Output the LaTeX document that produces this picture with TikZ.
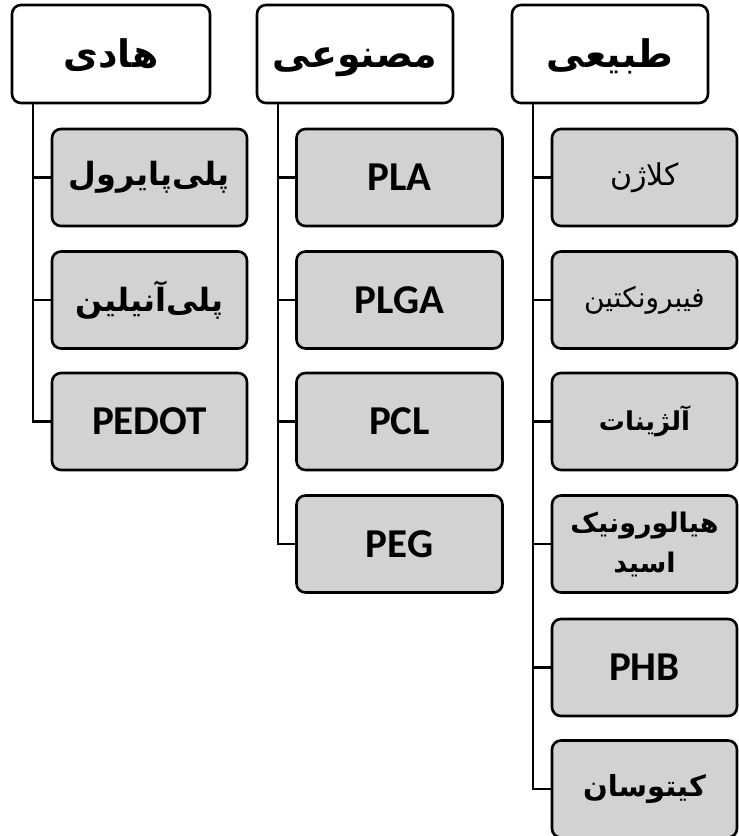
\documentclass[tikz,border=0pt]{standalone}
\usepackage{fontspec}
\setmainfont{Carlito}
\newfontfamily\fa[Script=Arabic]{DejaVu Sans}
\TeXXeTstate=1
\begin{document}
\begin{tikzpicture}[x=1pt,y=1pt,
  head/.style={draw=black, line width=2.6pt, rounded corners=9pt, fill=white,
    minimum height=98pt, inner sep=0pt, text height=30pt, text depth=4pt,
    font=\fa\bfseries\fontsize{38}{40}\selectfont},
  item/.style={draw=black, line width=2.6pt, rounded corners=9pt, fill=gray!35,
    minimum height=97pt, inner sep=0pt, align=center},
  lat/.style={font=\bfseries\fontsize{41}{44}\selectfont},
  per/.style={font=\fa\bfseries\fontsize{32}{40}\selectfont},
  conn/.style={draw=black, line width=2.6pt}]
\useasboundingbox (0,0) rectangle (739,-836);
\clip (0,0) rectangle (739,-836);
% headers
\node[head, minimum width=198pt] (h1) at (111,-54) {\beginR هادی\endR};
\node[head, minimum width=196pt] (h2) at (355,-54) {\beginR مصنوعی\endR};
\node[head, minimum width=196pt] (h3) at (610,-54) {\beginR طبیعی\endR};
\coordinate (t1) at (33,-103);
\coordinate (t2) at (278,-103);
\coordinate (t3) at (533,-103);
% column 1
\node[item, minimum width=195pt, per] (a1) at (149.5,-177.5) {\beginR پلی\char"200C پایرول\endR};
\node[item, minimum width=195pt, per] (a2) at (149.5,-300) {\beginR پلی\char"200C آنیلین\endR};
\node[item, minimum width=195pt, lat] (a3) at (149.5,-421.5) {PEDOT};
% column 2
\node[item, minimum width=206pt, lat] (b1) at (399.5,-177.5) {PLA};
\node[item, minimum width=206pt, lat] (b2) at (399.5,-300) {PLGA};
\node[item, minimum width=206pt, lat] (b3) at (399.5,-421.5) {PCL};
\node[item, minimum width=206pt, lat] (b4) at (399.5,-544) {PEG};
% column 3
\node[item, minimum width=185pt, font=\fa\fontsize{30}{36}\selectfont] (c1) at (644.5,-177.5) {\beginR کلاژن\endR};
\node[item, minimum width=185pt, font=\fa\fontsize{28}{36}\selectfont] (c2) at (644.5,-300) {\beginR فیبرونکتین\endR};
\node[item, minimum width=185pt, font=\fa\bfseries\fontsize{26}{36}\selectfont] (c3) at (644.5,-421.5) {\beginR آلژینات\endR};
\node[item, minimum width=185pt, font=\fa\bfseries\fontsize{27}{40}\selectfont] (c4) at (644.5,-544) {\beginR هیالورونیک\endR\\\beginR اسید\endR};
\node[item, minimum width=185pt, lat] (c5) at (644.5,-667.5) {PHB};
\node[item, minimum width=185pt, font=\fa\bfseries\fontsize{29}{36}\selectfont] (c6) at (644.5,-789) {\beginR کیتوسان\endR};
% connectors
\draw[conn] (t1) |- (a3.west);
\draw[conn] (t1 |- a1.west) -- (a1.west);
\draw[conn] (t1 |- a2.west) -- (a2.west);
\draw[conn] (t2) |- (b4.west);
\draw[conn] (t2 |- b1.west) -- (b1.west);
\draw[conn] (t2 |- b2.west) -- (b2.west);
\draw[conn] (t2 |- b3.west) -- (b3.west);
\draw[conn] (t3) |- (c6.west);
\draw[conn] (t3 |- c1.west) -- (c1.west);
\draw[conn] (t3 |- c2.west) -- (c2.west);
\draw[conn] (t3 |- c3.west) -- (c3.west);
\draw[conn] (t3 |- c4.west) -- (c4.west);
\draw[conn] (t3 |- c5.west) -- (c5.west);
\end{tikzpicture}
\end{document}
